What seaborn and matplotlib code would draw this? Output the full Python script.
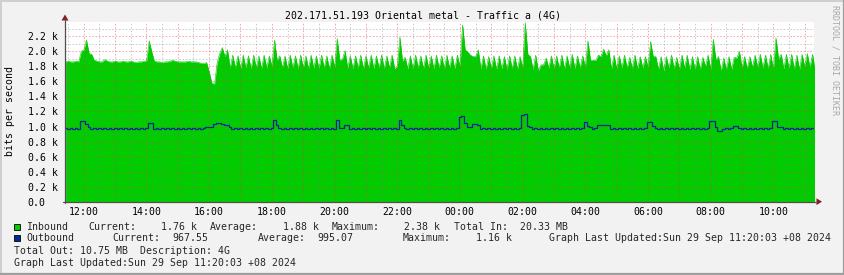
import numpy as np
import pandas as pd
import matplotlib
matplotlib.use("Agg")
import matplotlib.pyplot as plt
import seaborn as sns
from matplotlib.patches import Polygon, Rectangle
from matplotlib.lines import Line2D
from matplotlib.ticker import FixedLocator, MultipleLocator, FixedFormatter

# ---------------- data (k bits per second, 5-minute samples) ----------------
inbound_k = [
    1.86, 1.87, 1.86, 1.86, 1.87, 1.86, 2.00, 2.02, 2.15, 1.97, 1.96, 1.88,
    1.87, 1.86, 1.86, 1.89, 1.87, 1.86, 1.86, 1.87, 1.86, 1.86, 1.87, 1.86,
    1.86, 1.87, 1.86, 1.85, 1.86, 1.86, 1.87, 1.87, 2.14, 1.99, 1.87, 1.86,
    1.86, 1.85, 1.86, 1.86, 1.87, 1.88, 1.87, 1.86, 1.86, 1.86, 1.86, 1.87,
    1.86, 1.86, 1.86, 1.85, 1.84, 1.84, 1.85, 1.72, 1.58, 1.56, 1.84, 1.97,
    2.05, 1.93, 2.02, 1.78, 1.95, 1.78, 1.94, 1.77, 1.95, 1.78, 1.94, 1.77,
    1.95, 1.78, 1.94, 1.77, 1.95, 1.78, 1.94, 1.80, 2.15, 1.88, 1.94, 1.78,
    1.94, 1.77, 1.95, 1.78, 1.94, 1.77, 1.95, 1.78, 1.94, 1.77, 1.95, 1.78,
    1.94, 1.77, 1.95, 1.78, 1.94, 1.77, 1.95, 1.79, 2.17, 1.88, 1.90, 2.01,
    1.78, 1.94, 1.77, 1.94, 1.78, 1.95, 1.77, 1.94, 1.78, 1.95, 1.77, 1.94,
    1.78, 1.95, 1.77, 1.94, 1.78, 1.95, 1.77, 1.80, 2.19, 1.87, 1.92, 1.77,
    1.94, 1.77, 1.95, 1.78, 1.94, 1.77, 1.95, 1.78, 1.94, 1.77, 1.95, 1.78,
    1.94, 1.77, 1.95, 1.78, 1.94, 1.77, 1.95, 1.80, 2.35, 2.02, 1.99, 1.95,
    1.93, 1.93, 2.02, 1.77, 1.94, 1.76, 1.93, 1.77, 1.94, 1.76, 1.94, 1.77,
    1.93, 1.76, 1.94, 1.77, 1.94, 1.76, 1.93, 1.78, 2.38, 1.96, 1.93, 1.76,
    1.95, 1.74, 1.82, 1.82, 1.91, 1.78, 1.94, 1.77, 1.94, 1.78, 1.95, 1.77,
    1.94, 1.78, 1.96, 1.77, 1.94, 1.78, 1.94, 1.79, 2.14, 1.88, 1.88, 1.88,
    1.95, 1.93, 2.03, 1.94, 2.02, 1.77, 1.95, 1.77, 1.94, 1.78, 1.95, 1.78,
    1.92, 1.77, 1.95, 1.77, 1.93, 1.78, 1.93, 1.79, 2.13, 1.93, 1.93, 1.76,
    1.93, 1.74, 1.93, 1.78, 1.95, 1.77, 1.92, 1.76, 1.95, 1.78, 1.95, 1.76,
    1.93, 1.76, 1.93, 1.76, 1.92, 1.80, 1.95, 1.76, 2.16, 1.89, 1.93, 1.74,
    1.91, 1.76, 1.93, 1.76, 1.92, 1.91, 2.00, 1.78, 1.93, 1.77, 1.93, 1.79,
    1.95, 1.79, 1.96, 1.78, 1.95, 1.77, 1.96, 1.76, 2.18, 1.90, 1.96, 1.77,
    1.96, 1.77, 1.96, 1.76, 1.95, 1.76, 1.96, 1.80, 1.97, 1.79, 1.96, 1.76,
]
outbound_k = [
    0.98, 0.965, 0.985, 0.965, 0.98, 0.965, 1.07, 1.07, 1.04, 0.99, 0.97, 0.985,
    0.965, 0.985, 0.965, 0.98, 0.965, 0.985, 0.965, 0.98, 0.965, 0.985, 0.965, 0.98,
    0.965, 0.985, 0.965, 0.98, 0.965, 0.985, 0.965, 0.98, 1.045, 1.045, 0.97, 0.985,
    0.965, 0.98, 0.965, 0.985, 0.965, 0.98, 0.965, 0.985, 0.965, 0.98, 0.965, 0.985,
    0.965, 0.98, 0.965, 0.985, 0.965, 0.98, 0.99, 0.99, 0.99, 1.03, 1.05, 1.045,
    1.035, 1.02, 1.02, 1.0, 0.97, 0.985, 0.965, 0.98, 0.965, 0.985, 0.965, 0.98,
    0.965, 0.985, 0.965, 0.98, 0.965, 0.985, 0.965, 0.98, 1.09, 1.02, 0.985, 0.965,
    0.98, 0.965, 0.985, 0.965, 0.98, 0.965, 0.985, 0.965, 0.98, 0.965, 0.985, 0.965,
    0.98, 0.965, 0.985, 0.965, 0.98, 0.965, 0.985, 0.965, 1.08, 0.98, 0.975, 1.02,
    1.02, 0.97, 0.985, 0.965, 0.98, 0.965, 0.985, 0.965, 0.98, 0.965, 0.985, 0.965,
    0.98, 0.965, 0.985, 0.965, 0.98, 0.965, 0.985, 0.965, 1.09, 1.02, 0.985, 0.965,
    0.98, 0.965, 0.985, 0.965, 0.98, 0.965, 0.985, 0.965, 0.98, 0.965, 0.985, 0.965,
    0.98, 0.965, 0.985, 0.965, 0.98, 0.965, 0.985, 1.13, 1.14, 1.05, 1.0, 0.99,
    1.03, 1.035, 1.02, 0.97, 0.985, 0.965, 0.98, 0.965, 0.985, 0.965, 0.98, 0.965,
    0.985, 0.965, 0.98, 0.965, 0.985, 0.965, 0.98, 1.15, 1.16, 1.01, 0.995, 0.965,
    0.985, 0.965, 0.98, 0.965, 0.985, 0.965, 0.98, 0.965, 0.985, 0.965, 0.98, 0.965,
    0.985, 0.965, 0.98, 0.965, 0.985, 0.965, 0.98, 1.065, 1.01, 0.99, 0.965, 0.985,
    1.02, 1.02, 1.02, 1.02, 1.02, 0.97, 0.985, 0.965, 0.98, 0.965, 0.985, 0.965,
    0.98, 0.965, 0.985, 0.965, 0.98, 0.965, 0.985, 1.065, 1.065, 1.01, 0.985, 0.965,
    0.98, 0.965, 0.985, 0.965, 0.98, 0.965, 0.985, 0.965, 0.98, 0.965, 0.985, 0.965,
    0.98, 0.965, 0.985, 0.965, 0.98, 0.965, 0.985, 1.07, 1.07, 1.0, 0.94, 0.94,
    0.97, 0.975, 0.965, 0.98, 1.01, 1.01, 0.985, 0.965, 0.98, 0.965, 0.985, 0.965,
    0.98, 0.965, 0.985, 0.965, 0.98, 0.965, 0.985, 1.07, 1.07, 1.0, 1.0, 0.965,
    0.985, 0.965, 0.98, 0.965, 0.985, 0.965, 0.98, 0.965, 0.985, 0.965, 0.98, 0.9675,
]
start_hour = 11.42          # first sample (11:25)
sample_minutes = 5

x_tick_hours = list(range(12, 36))
x_tick_labels = [f"{h % 24:02d}:00" if h % 2 == 0 else "" for h in x_tick_hours]
y_ticks = [0.0, 0.2, 0.4, 0.6, 0.8, 1.0, 1.2, 1.4, 1.6, 1.8, 2.0, 2.2]
y_tick_labels = ["0.0", "0.2 k", "0.4 k", "0.6 k", "0.8 k", "1.0 k", "1.2 k",
                 "1.4 k", "1.6 k", "1.8 k", "2.0 k", "2.2 k"]

title = "202.171.51.193 Oriental metal - Traffic a (4G)"
y_label = "bits per second"
watermark = "RRDTOOL / TOBI OETIKER"
legend_line1 = [("Inbound", 26.5), ("Current:", 88.3), ("1.76 k", 160.7),
                ("Average:", 210.0), ("1.88 k", 282.7), ("Maximum:", 331.7),
                ("2.38 k", 404.0), ("Total In:", 454.0), ("20.33 MB", 520.0)]
legend_line2 = [("Outbound", 26.5), ("Current:", 112.7), ("967.55", 172.3),
                ("Average:", 258.3), ("995.07", 317.0), ("Maximum:", 402.7),
                ("1.16 k", 476.0),
                ("Graph Last Updated:Sun 29 Sep 11:20:03 +08 2024", 549.3)]
legend_line3 = "Total Out: 10.75 MB  Description: 4G"
legend_line4 = "Graph Last Updated:Sun 29 Sep 11:20:03 +08 2024"

# ---------------- styling ----------------
sns.set_theme(style="white")
plt.rcParams['font.family'] = ['DejaVu Sans Mono', 'DejaVu Sans']

W, H = 845, 275
BACK = "#F2F2F2"
GREEN = "#00CC00"
BLUE = "#002A97"
ARROW = "#8B1C1C"
AXIS = "#505050"
FS = 7.15

def fx(x):
    return x / W

def fy(y):
    return 1 - y / H

fig = plt.figure(figsize=(W / 100, H / 100), dpi=100, facecolor=BACK)

L, R, T, B = 65.0, 814.0, 22.0, 201.7
ax = fig.add_axes([fx(L), fy(B), (R - L) / W, (B - T) / H])
ax.set_facecolor("white")

hours = start_hour + np.arange(len(inbound_k)) * sample_minutes / 60.0
df = pd.DataFrame({"hour": hours, "inbound": inbound_k, "outbound": outbound_k})

ax.fill_between(df["hour"], 0, df["inbound"], color=GREEN, lw=0, zorder=2)
sns.lineplot(data=df, x="hour", y="inbound", color=GREEN, lw=0.4,
             estimator=None, ax=ax, zorder=2)
sns.lineplot(data=df, x="hour", y="outbound", color=BLUE, lw=0.9,
             estimator=None, drawstyle="steps-mid", ax=ax, zorder=4)

ax.set_xlim(11.40, 35.30)
ax.set_ylim(0, 2.39)
ax.set_xlabel("")
ax.set_ylabel("")

ax.xaxis.set_major_locator(FixedLocator(x_tick_hours))
ax.xaxis.set_major_formatter(FixedFormatter(x_tick_labels))
ax.xaxis.set_minor_locator(MultipleLocator(0.5))
ax.yaxis.set_major_locator(FixedLocator(y_ticks))
ax.yaxis.set_major_formatter(FixedFormatter(y_tick_labels))
ax.yaxis.set_minor_locator(MultipleLocator(0.1))

dot = (0, (1.67, 1.67))
ax.grid(which="major", color="#E04040", alpha=0.42, lw=0.72, ls=dot)
ax.grid(which="minor", color="#808080", alpha=0.38, lw=0.72, ls=dot)
ax.set_axisbelow(False)

for s in ax.spines.values():
    s.set_visible(False)

ax.tick_params(axis="x", which="major", length=2.2, width=0.72,
               color=(0.87, 0.31, 0.31, 0.8), pad=1.5, labelsize=FS,
               labelcolor="black", direction="out")
ax.tick_params(axis="x", which="minor", length=1.5, width=0.72,
               color=(0.56, 0.56, 0.56, 0.6), direction="out")
ax.tick_params(axis="y", which="major", length=2.5, width=0.72, color=AXIS,
               pad=24.4, labelsize=FS, labelcolor="black", direction="out")
ax.tick_params(axis="y", which="minor", length=1.5, width=0.72,
               color=(0.56, 0.56, 0.56, 0.6), direction="out")
for lab in ax.get_yticklabels():
    lab.set_horizontalalignment("left")

# axis lines and arrows
fig.add_artist(Line2D([fx(L), fx(L)], [fy(B + 1), fy(19)], color=AXIS, lw=0.9))
fig.add_artist(Line2D([fx(L - 2), fx(817)], [fy(B), fy(B)], color=AXIS, lw=0.9))
fig.add_artist(Polygon([(fx(61.5), fy(20.5)), (fx(68.5), fy(20.5)), (fx(65), fy(14.5))],
                       closed=True, color=ARROW, lw=0))
fig.add_artist(Polygon([(fx(816.5), fy(198.3)), (fx(816.5), fy(205.1)), (fx(822), fy(B))],
                       closed=True, color=ARROW, lw=0))

# title, y label, watermark
fig.text(fx(423), fy(15), title, ha="center", va="center", fontsize=FS, color="black")
fig.text(fx(10.5), fy(111), y_label, ha="center", va="center", rotation=90,
         fontsize=FS, color="black")
fig.text(fx(835), fy(5), watermark, ha="center", va="top", rotation=270,
         fontsize=6.0, color="#A8A8A8")

# legend
for (txt, x) in legend_line1:
    fig.text(fx(x), fy(226.7), txt, ha="left", va="center", fontsize=FS)
for (txt, x) in legend_line2:
    fig.text(fx(x), fy(238.3), txt, ha="left", va="center", fontsize=FS)
fig.text(fx(14), fy(250.7), legend_line3, ha="left", va="center", fontsize=FS)
fig.text(fx(14), fy(262.7), legend_line4, ha="left", va="center", fontsize=FS)
for col, yc in ((GREEN, 226.7), (BLUE, 238.3)):
    fig.add_artist(Rectangle((fx(14), fy(yc + 3)), 6 / W, 6 / H, facecolor=col,
                             edgecolor="black", lw=0.6))

# canvas border (shade)
fig.add_artist(Line2D([0, 1], [fy(0.7), fy(0.7)], color="#CFCFCF", lw=1.4))
fig.add_artist(Line2D([fx(0.7), fx(0.7)], [0, 1], color="#CFCFCF", lw=1.4))
fig.add_artist(Line2D([0, 1], [fy(274.0), fy(274.0)], color="#9E9E9E", lw=1.6))
fig.add_artist(Line2D([fx(844.0), fx(844.0)], [0, 1], color="#9E9E9E", lw=1.6))

fig.savefig("out.png", dpi=100, facecolor=BACK)
